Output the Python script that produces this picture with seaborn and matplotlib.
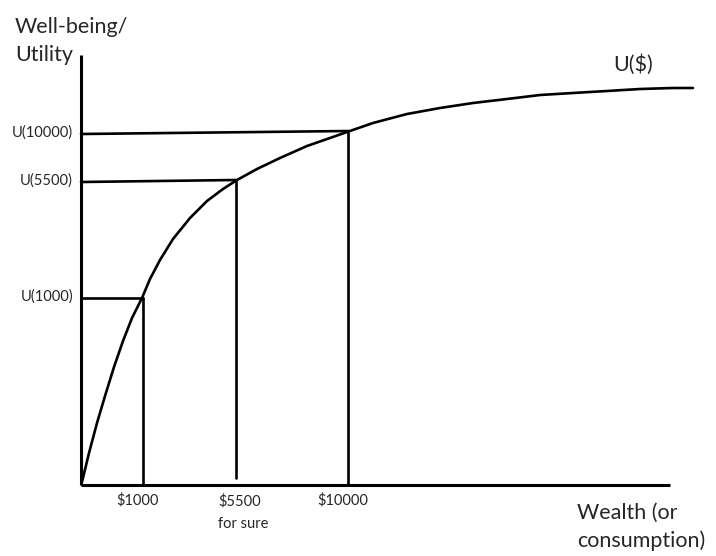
import matplotlib
matplotlib.use("Agg")
import matplotlib.pyplot as plt
import pandas as pd
import seaborn as sns

# hand-drawn diagram: positions measured from the origin of the axes
curve_x = [1, 8, 16, 24, 33, 42, 51, 61, 69, 79, 92, 109, 126, 142, 156, 176, 199,
           226, 249, 266, 292, 326, 359, 392, 426, 459, 492, 526, 559, 592, 612]
curve_y = [3, 32, 62, 89, 118, 144, 167, 187, 206, 225, 246, 267, 284, 296, 305, 316, 327,
           339, 347, 353, 362, 371, 377, 382, 386, 390, 392, 394, 396, 397, 397]

wealth_labels = ["$1000", "$5500\nfor sure", "$10000"]
wealth_pos = [62, 155, 267]
wealth_base = [0, 7, 0]
utility_labels = ["U(1000)", "U(5500)", "U(10000)"]
utility_left = [187, 303, 351]
utility_right = [187, 305, 354]

axis_x_end = 589
axis_y_end = 430

sns.set_style("white")
plt.rcParams["font.family"] = ["Lato", "DejaVu Sans"]

fig = plt.figure(figsize=(7.16, 5.56), dpi=100)
ax = fig.add_axes([0, 0, 1, 1])
ax.set_xlim(-81, 635)
ax.set_ylim(-71, 485)
ax.axis("off")

lw = 1.9
# axes
ax.plot([0, 0], [0, axis_y_end], color="black", lw=2.2, solid_capstyle="butt")
ax.plot([0, axis_x_end], [0, 0], color="black", lw=2.2, solid_capstyle="butt")

# utility curve
df = pd.DataFrame({"wealth": curve_x, "utility": curve_y})
sns.lineplot(data=df, x="wealth", y="utility", color="black", lw=lw, ax=ax, sort=False)

# guide lines
for xp, yb, yl, yr in zip(wealth_pos, wealth_base, utility_left, utility_right):
    ax.plot([0, xp], [yl, yr], color="black", lw=lw)
    ax.plot([xp, xp], [yb, yr], color="black", lw=lw)

# labels
for lab, yl in zip(utility_labels, utility_left):
    ax.text(-8, yl + 1, lab, ha="right", va="center", fontsize=10.5)
for lab, xp in zip(wealth_labels, wealth_pos):
    if "\n" in lab:
        ax.text(xp - 18, -9, lab, ha="left", va="top", fontsize=10.5, linespacing=1.75)
    else:
        ax.text(xp - 5, -8, lab, ha="center", va="top", fontsize=10.5)

ax.text(-66, 444, "Well-being/\nUtility", ha="left", va="center", fontsize=15.5, linespacing=1.5)
ax.text(532, 420, "U($)", ha="left", va="center", fontsize=15.5)
ax.text(496, -42, "Wealth (or\nconsumption)", ha="left", va="center", fontsize=15.5, linespacing=1.5)

fig.savefig("out.png", dpi=100)
